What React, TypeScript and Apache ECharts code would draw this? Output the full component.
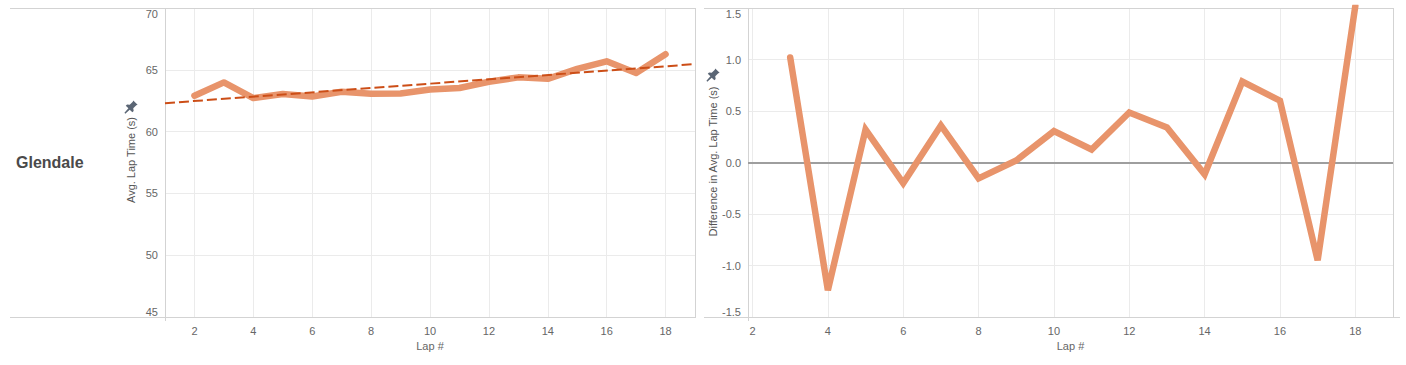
import React, { useEffect, useRef } from 'react';
import * as echarts from 'echarts';

const laps = [2, 3, 4, 5, 6, 7, 8, 9, 10, 11, 12, 13, 14, 15, 16, 17, 18];
const avgLapTime = [62.9, 63.98, 62.71, 63.04, 62.84, 63.22, 63.07, 63.09, 63.41, 63.53, 64.03, 64.39, 64.27, 65.07, 65.69, 64.74, 66.26];
const diffLaps = [3, 4, 5, 6, 7, 8, 9, 10, 11, 12, 13, 14, 15, 16, 17, 18];
const diffValues = [1.02, -1.24, 0.32, -0.2, 0.36, -0.155, 0.02, 0.305, 0.126, 0.485, 0.34, -0.115, 0.786, 0.6, -0.95, 1.52];
const trendLaps = [1, 19];
const trendValues = [62.3, 65.46];
const lapTicks = [2, 4, 6, 8, 10, 12, 14, 16, 18];

const PIN_D =
  'M10.5 0.5 L15.5 5.5 L14 6 L10.5 9.5 L11 12.5 L9.5 14 L6.5 11 L1.5 15.5 L0.5 14.5 L5 9.5 L2 6.5 L3.5 5 L6.5 5.5 L10 2 Z';
echarts.graphic.registerShape('pin', echarts.graphic.extendPath(PIN_D, {}));

const FONT = 'Arial, "Liberation Sans", sans-serif';
const LINE_COLOR = '#e8946b';
const TREND_COLOR = '#cc4e17';
const FRAME = '#d3d3d3';
const GRID_LINE = '#ebebeb';
const LABEL = '#666666';

function frameLine(x1: number, y1: number, x2: number, y2: number) {
  return {
    type: 'line',
    z: 1,
    silent: true,
    shape: { x1, y1, x2, y2 },
    style: { stroke: FRAME, lineWidth: 1 },
  };
}

function xAxisCfg(gridIndex: number, min: number, max: number) {
  return {
    type: 'value',
    gridIndex,
    min,
    max,
    name: 'Lap #',
    nameLocation: 'middle',
    nameGap: 29,
    nameTextStyle: { color: LABEL, fontSize: 11, fontFamily: FONT, verticalAlign: 'middle' },
    axisLine: { show: false },
    axisTick: { show: false, customValues: lapTicks },
    axisLabel: { color: LABEL, fontSize: 11, fontFamily: FONT, margin: 8, customValues: lapTicks },
    splitLine: { show: true, lineStyle: { color: GRID_LINE, width: 1 } },
  };
}

function yAxisCfg(gridIndex: number, min: number, max: number, interval: number, digits: number) {
  return {
    type: 'value',
    gridIndex,
    min,
    max,
    interval,
    axisLine: { show: false },
    axisTick: { show: false },
    axisLabel: {
      color: LABEL,
      fontSize: 11,
      fontFamily: FONT,
      margin: 7,
      verticalAlignMaxLabel: 'top',
      verticalAlignMinLabel: 'bottom',
      formatter: (v: number) => v.toFixed(digits),
    },
    splitLine: { show: true, lineStyle: { color: GRID_LINE, width: 1 } },
  };
}

export default function App() {
  const ref = useRef<HTMLDivElement>(null);
  useEffect(() => {
    document.body.style.margin = '0';
    const chart = echarts.init(ref.current!, null, { renderer: 'svg' });
    const option = {
      animation: false,
      textStyle: { fontFamily: FONT },
      grid: [
        { left: 165, top: 8, width: 530, height: 309, show: false },
        { left: 748, top: 8, width: 645, height: 309, show: false },
      ],
      xAxis: [xAxisCfg(0, 1, 19), xAxisCfg(1, 1.88, 19)],
      yAxis: [yAxisCfg(0, 45, 70, 5, 0), yAxisCfg(1, -1.5, 1.5, 0.5, 1)],
      series: [
        {
          type: 'line',
          xAxisIndex: 0,
          yAxisIndex: 0,
          data: laps.map((l, i) => [l, avgLapTime[i]]),
          symbol: 'none',
          clip: true,
          z: 3,
          lineStyle: { color: LINE_COLOR, width: 6.5, cap: 'round', join: 'round' },
        },
        {
          type: 'line',
          xAxisIndex: 0,
          yAxisIndex: 0,
          data: trendLaps.map((l, i) => [l, trendValues[i]]),
          symbol: 'none',
          clip: true,
          z: 4,
          lineStyle: { color: TREND_COLOR, width: 2, type: [10, 4] },
        },
        {
          type: 'line',
          xAxisIndex: 1,
          yAxisIndex: 1,
          data: diffLaps.map((l, i) => [l, diffValues[i]]),
          symbol: 'none',
          clip: true,
          z: 3,
          lineStyle: { color: LINE_COLOR, width: 6.5, cap: 'round', join: 'miter' },
          markLine: {
            silent: true,
            symbol: 'none',
            label: { show: false },
            z: 2,
            lineStyle: { color: '#9e9e9e', width: 2, type: 'solid' },
            data: [{ yAxis: 0 }],
          },
        },
      ],
      graphic: [
        frameLine(10, 8.5, 696, 8.5),
        frameLine(10, 317.5, 696, 317.5),
        frameLine(695.5, 8, 695.5, 318),
        frameLine(165.5, 8, 165.5, 321),
        frameLine(704, 8.5, 1394, 8.5),
        frameLine(704, 317.5, 1400, 317.5),
        frameLine(1393.5, 8, 1393.5, 318),
        frameLine(748.5, 8, 748.5, 321),
        {
          type: 'text',
          x: 16,
          y: 162,
          style: { text: 'Glendale', fill: '#4a4a4a', font: `bold 16px ${FONT}`, verticalAlign: 'middle', align: 'left' },
        },
        {
          type: 'text',
          x: 131,
          y: 160,
          rotation: Math.PI / 2,
          style: { text: 'Avg. Lap Time (s)', fill: '#555555', font: `11px ${FONT}`, align: 'center', verticalAlign: 'middle' },
        },
        {
          type: 'text',
          x: 713,
          y: 161.5,
          rotation: Math.PI / 2,
          style: { text: 'Difference in Avg. Lap Time (s)', fill: '#555555', font: `11px ${FONT}`, align: 'center', verticalAlign: 'middle' },
        },
        { type: 'pin', x: 124, y: 100, scaleX: 0.88, scaleY: 0.88, style: { fill: '#5b6675' } },
        { type: 'pin', x: 706, y: 68, scaleX: 0.88, scaleY: 0.88, style: { fill: '#5b6675' } },
      ],
    };
    chart.setOption(option as any);
    return () => chart.dispose();
  }, []);
  return <div ref={ref} style={{ width: 1406, height: 365 }} />;
}
